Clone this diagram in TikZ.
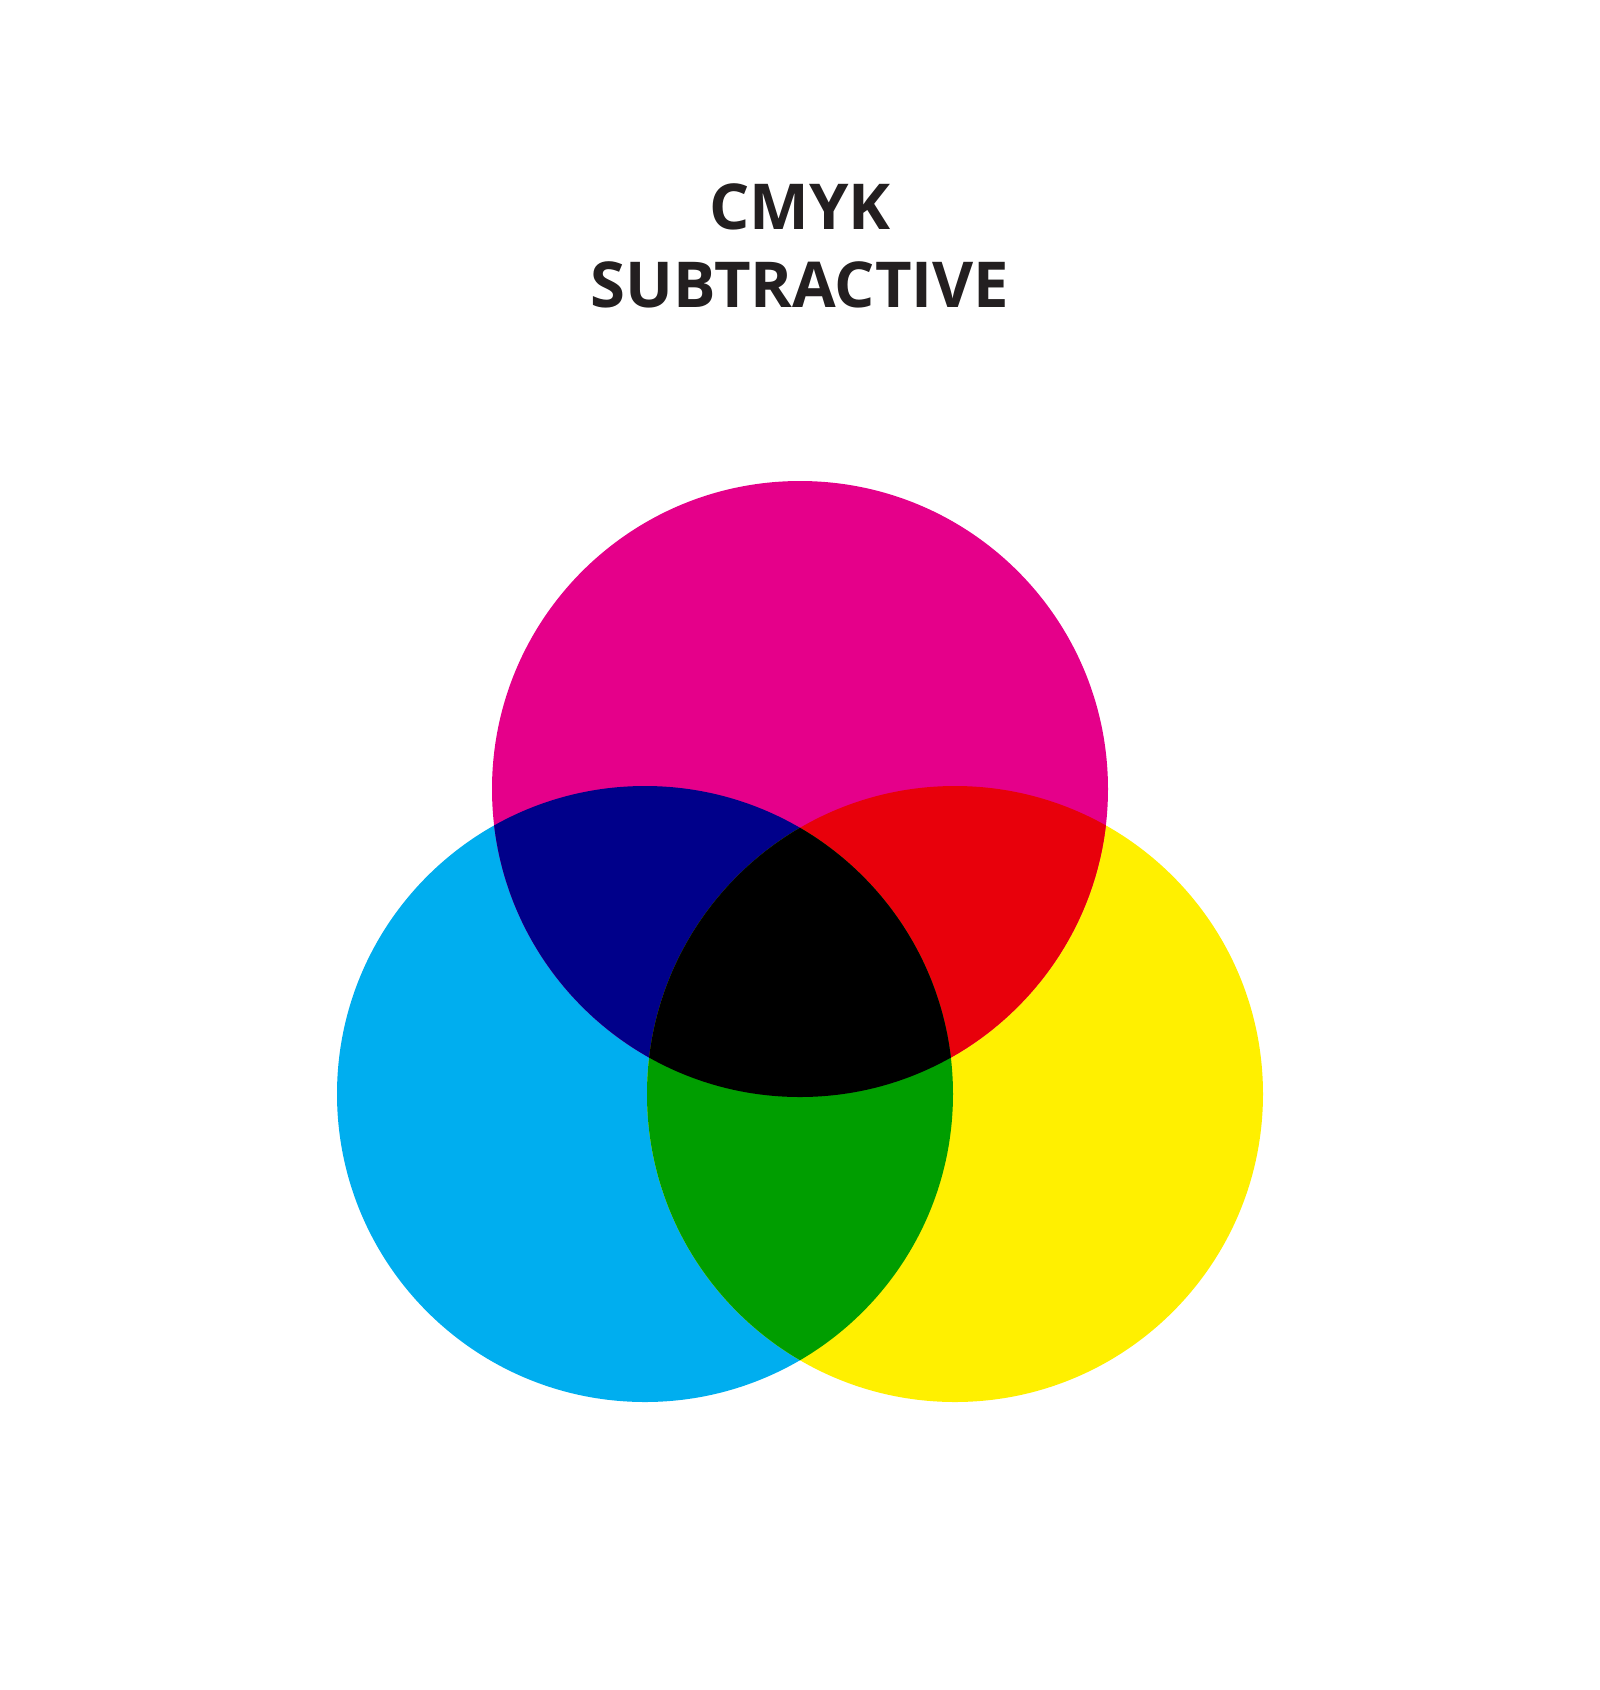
\documentclass[tikz,border=0pt]{standalone}
\usepackage{fontspec}
\setmainfont{Open Sans}
\usetikzlibrary{positioning}

\definecolor{inkC}{HTML}{00AEEF}
\definecolor{inkM}{HTML}{E5008A}
\definecolor{inkY}{HTML}{FFF000}
\definecolor{inkCM}{HTML}{00008A}
\definecolor{inkMY}{HTML}{E8000B}
\definecolor{inkCY}{HTML}{009E00}
\definecolor{titlegray}{HTML}{231F20}

\tikzset{
    title/.style={anchor=base, text=titlegray, inner sep=0pt,
        font=\fontsize{18}{22}\selectfont\bfseries}
}

\begin{document}
\begin{tikzpicture}[x=0.01cm, y=-0.01cm]
\useasboundingbox (0,0) rectangle (1600,1690);

% Title
\node[title] (cmyk) at (800,229) {CMYK};
\node[title] (subtr) at (800,307) {SUBTRACTIVE};

% Centres of the three circles
\coordinate (cC) at (645,1094);
\coordinate (cY) at (955,1094);
\coordinate (cM) at (800,789);

% Plain circles
\fill[inkC] (cC) circle (308);
\fill[inkY] (cY) circle (308);
\fill[inkM] (cM) circle (308);

% Overlaps of two inks
\begin{scope}
    \clip (cM) circle (308);
    \fill[inkCM] (cC) circle (308);
    \fill[inkMY] (cY) circle (308);
\end{scope}
\begin{scope}
    \clip (cC) circle (308);
    \fill[inkCY] (cY) circle (308);
\end{scope}

% Overlap of all three inks
\begin{scope}
    \clip (cM) circle (308);
    \clip (cC) circle (308);
    \fill[black] (cY) circle (308);
\end{scope}

\end{tikzpicture}
\end{document}
